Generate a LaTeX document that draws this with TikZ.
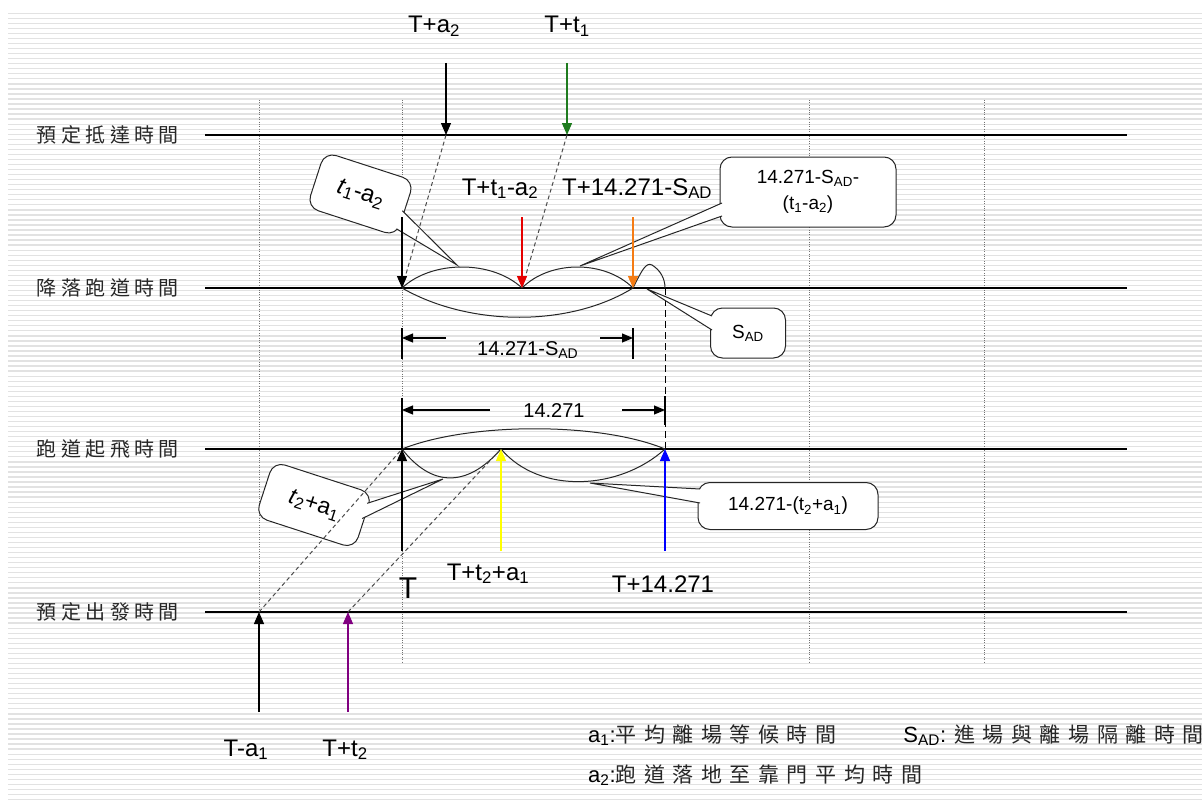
\documentclass[tikz,border=0pt]{standalone}
\usepackage{fontspec}
\setmainfont{Liberation Sans}
\newfontfamily\cjk[LetterSpace=22]{Noto Sans CJK TC}
\newfontfamily\cjkleg[LetterSpace=36]{Noto Sans CJK TC}
\usetikzlibrary{arrows.meta,calc}
\definecolor{stripecol}{HTML}{E2E2E2}
\definecolor{dkgreen}{HTML}{1E7B1E}
\definecolor{myorange}{HTML}{F57C14}
\definecolor{myyellow}{HTML}{FFFF00}
\definecolor{myblue}{HTML}{0000FF}
\definecolor{mypurple}{HTML}{800080}
\definecolor{myred}{HTML}{E60000}
\tikzset{
 stripeline/.style={stripecol, line width=1.3bp},
 gridline/.style={black!55, line width=0.7bp, dash pattern=on 0.8bp off 1.6bp},
 rowline/.style={black, line width=1.2bp},
 arcline/.style={black!85, line width=1bp},
 diagline/.style={black!70, line width=1bp, dash pattern=on 4bp off 3bp},
 dimtick/.style={black, line width=1.2bp},
 dimarrow/.style={black, line width=1.2bp, -{Triangle[length=11bp,width=9bp]}},
 timearrow/.style={line width=1.3bp, -{Triangle[length=12bp,width=10bp]}},
 callbox/.style={draw=black!85, fill=white, line width=1bp, rounded corners=12bp, inner sep=0pt, align=center},
 calltail/.style={draw=black!85, fill=white, line width=1bp},
 lbl/.style={font=\fontsize{24bp}{28bp}\selectfont, anchor=base, inner sep=0pt},
 dimlbl/.style={font=\fontsize{20bp}{24bp}\selectfont, anchor=base, inner sep=0pt},
 rowlbl/.style={font=\cjk\fontsize{20bp}{24bp}\selectfont, inner sep=0pt, text=black!85},
 leglbl/.style={font=\fontsize{22bp}{26bp}\selectfont, inner sep=0pt},
}
\newcommand{\legcjk}[1]{{\cjkleg\fontsize{21bp}{26bp}\selectfont\color{black!85}#1}}
\begin{document}
\begin{tikzpicture}[x=1bp,y=-1bp]
\useasboundingbox (0,0) rectangle (1202,804);
\fill[white] (0,0) rectangle (1202,804);
% background stripes
\foreach \i in {0,...,156} {
  \pgfmathsetmacro\yy{13.3+5.04*\i}
  \draw[stripeline] (8,\yy) -- (1202,\yy);
}
% vertical dotted grid lines
\foreach \x in {259,402,809,984} {
  \draw[gridline] (\x,100) -- (\x,662);
}
% row lines
\coordinate (A0) at (205,135); \coordinate (A1) at (1127,135);
\coordinate (L0) at (205,288); \coordinate (L1) at (1127,288);
\coordinate (D0) at (205,449); \coordinate (D1) at (1127,449);
\coordinate (P0) at (205,612); \coordinate (P1) at (1127,612);
\draw[rowline] (A0) -- (A1);
\draw[rowline] (L0) -- (L1);
\draw[rowline] (D0) -- (D1);
\draw[rowline] (P0) -- (P1);
% row labels
\node[rowlbl] (rA) at (108,135) {預定抵達時間};
\node[rowlbl] (rL) at (108,288) {降落跑道時間};
\node[rowlbl] (rD) at (108,449) {跑道起飛時間};
\node[rowlbl] (rP) at (108,612) {預定出發時間};
% key points
\coordinate (LT) at (402,288);
\coordinate (LM) at (522,288);
\coordinate (LS) at (633,288);
\coordinate (LE) at (665,288);
\coordinate (DT) at (402,449);
\coordinate (DM) at (501,449);
\coordinate (DE) at (665,449);
\coordinate (AA) at (446,135);
\coordinate (AB) at (567,135);
\coordinate (PA) at (259,612);
\coordinate (PB) at (348,612);
% dashed separation line
\draw[black, line width=1bp, dash pattern=on 7bp off 4bp] (LE) -- (DE);
% arcs on landing line
\draw[arcline] (LT) .. controls (432,260) and (492,260) .. (LM);
\draw[arcline] (LM) .. controls (550,260) and (605,260) .. (LS);
\draw[arcline] (LS) .. controls (642,270) and (646,262) .. (652,265) .. controls (660,270) and (665,278) .. (LE);
\draw[arcline] (LT) .. controls (470,327) and (570,327) .. (LS);
% arcs on departure line
\draw[arcline] (DT) .. controls (470,422) and (600,422) .. (DE);
\draw[arcline] (DT) .. controls (430,485) and (465,490) .. (DM);
\draw[arcline] (DM) .. controls (540,495) and (620,490) .. (DE);
% callout 1
\coordinate (tipA) at (457,265);
\begin{scope}[shift={(360.5,194)}, rotate=-18]
  \node[callbox, transform shape, minimum width=94bp, minimum height=58bp, font=\fontsize{24bp}{28bp}\selectfont] (c1) at (0,0) {\textit{t}\textsubscript{1}-a\textsubscript{2}};
  \draw[calltail] (45,3) -- (tipA) -- (45,22);
\end{scope}
% callout 2
\coordinate (tipB) at (580,266);
\node[callbox, minimum width=176bp, minimum height=70bp, font=\fontsize{19bp}{26bp}\selectfont] (c2) at (808,192) {14.271-S\textsubscript{AD}-\\(t\textsubscript{1}-a\textsubscript{2})};
\draw[calltail] (722,203) -- (tipB) -- (722,216);
% callout 3
\coordinate (tipC) at (647,289);
\node[callbox, minimum width=75bp, minimum height=50bp, font=\fontsize{19bp}{23bp}\selectfont] (c3) at (748,333) {S\textsubscript{AD}};
\draw[calltail] (712,316) -- (tipC) -- (712,330);
% callout 4
\coordinate (tipD) at (443,479);
\begin{scope}[shift={(314,505)}, rotate=-18]
  \node[callbox, transform shape, minimum width=104bp, minimum height=58bp, font=\fontsize{23bp}{27bp}\selectfont] (c4) at (0,0) {\textit{t}\textsubscript{2}+a\textsubscript{1}};
  \draw[calltail] (50,-18) -- (tipD) -- (50,-2);
\end{scope}
% callout 5
\coordinate (tipE) at (590,483);
\node[callbox, minimum width=180bp, minimum height=47bp, font=\fontsize{19bp}{23bp}\selectfont] (c5) at (788,506) {14.271-(t\textsubscript{2}+a\textsubscript{1})};
\draw[calltail] (700,489) -- (tipE) -- (700,503);
% dimension 14.271-S_AD
\coordinate (k1a) at (402,328); \coordinate (k1b) at (402,359);
\coordinate (k2a) at (633,328); \coordinate (k2b) at (633,359);
\draw[dimtick] (k1a) -- (k1b);
\draw[dimtick] (k2a) -- (k2b);
\coordinate (m1s) at (446,338); \coordinate (m1e) at (402,338);
\coordinate (m2s) at (600,338); \coordinate (m2e) at (633,338);
\draw[dimarrow] (m1s) -- (m1e);
\draw[dimarrow] (m2s) -- (m2e);
\node[dimlbl, anchor=base west] (dim1) at (477,355) {14.271-S\textsubscript{AD}};
% dimension 14.271
\coordinate (k3a) at (402,398); \coordinate (k3b) at (402,449);
\coordinate (k4a) at (665,396); \coordinate (k4b) at (665,425);
\draw[dimtick] (k3a) -- (k3b);
\draw[dimtick] (k4a) -- (k4b);
\coordinate (n1s) at (490,410); \coordinate (n1e) at (402,410);
\coordinate (n2s) at (622,410); \coordinate (n2e) at (665,410);
\draw[dimarrow] (n1s) -- (n1e);
\draw[dimarrow] (n2s) -- (n2e);
\node[dimlbl] (dim2) at (554,417) {14.271};
% dashed diagonals
\draw[diagline] (AA) -- (LT);
\draw[diagline] (AB) -- (LM);
\draw[diagline] (PA) -- (DT);
\draw[diagline] (PB) -- (DM);
% time arrows
\coordinate (sAA) at (446,63);  \draw[timearrow, black] (sAA) -- (AA);
\coordinate (sAB) at (567,63);  \draw[timearrow, dkgreen] (sAB) -- (AB);
\coordinate (sLT) at (402,217); \draw[timearrow, black] (sLT) -- (LT);
\coordinate (sLM) at (522,217); \draw[timearrow, myred] (sLM) -- (LM);
\coordinate (sLS) at (633,217); \draw[timearrow, myorange] (sLS) -- (LS);
\coordinate (sDT) at (402,551); \draw[timearrow, black] (sDT) -- (DT);
\coordinate (sDM) at (501,551); \draw[timearrow, myyellow] (sDM) -- (DM);
\coordinate (sDE) at (665,551); \draw[timearrow, myblue] (sDE) -- (DE);
\coordinate (sPA) at (259,712); \draw[timearrow, black] (sPA) -- (PA);
\coordinate (sPB) at (348,712); \draw[timearrow, mypurple] (sPB) -- (PB);
% labels
\node[lbl] (lTa2) at (434,33) {T+a\textsubscript{2}};
\node[lbl] (lTt1) at (567,33) {T+t\textsubscript{1}};
\node[lbl] (lTt1a2) at (500,195) {T+t\textsubscript{1}-a\textsubscript{2}};
\node[lbl, anchor=base west] (lTS) at (562,195) {T+14.271-S\textsubscript{AD}};
\node[lbl, font=\fontsize{30bp}{34bp}\selectfont] (lT) at (408,598) {T};
\node[lbl] (lTt2a1) at (488,580) {T+t\textsubscript{2}+a\textsubscript{1}};
\node[lbl] (lT14) at (663,592) {T+14.271};
\node[lbl] (lTa1) at (246,756) {T-a\textsubscript{1}};
\node[lbl] (lTt2) at (345,756) {T+t\textsubscript{2}};
% legend
\node[leglbl, anchor=base west] (leg1) at (588,742) {a\textsubscript{1}:\legcjk{平均離場等候時間}};
\node[leglbl, anchor=base east] (leg2) at (1204,742) {S\textsubscript{AD}: \legcjk{進場與離場隔離時間}};
\node[leglbl, anchor=base west] (leg3) at (588,782) {a\textsubscript{2}:\legcjk{跑道落地至靠門平均時間}};
\end{tikzpicture}
\end{document}
